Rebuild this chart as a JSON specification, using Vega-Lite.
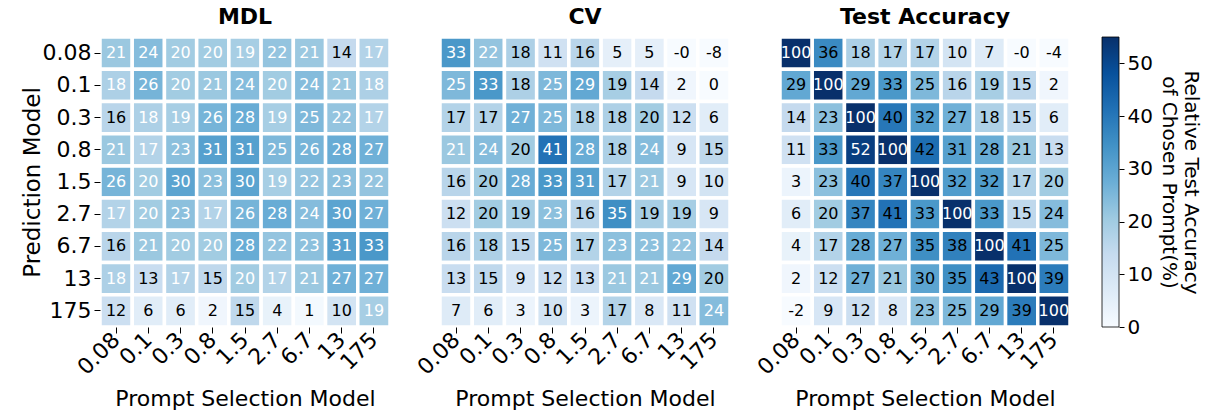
{
"$schema": "https://vega.github.io/schema/vega-lite/v6.json",
"background": "white",
"padding": {"left": 21, "top": 6, "right": 2, "bottom": 2},
"config": {
  "font": "DejaVu Sans",
  "view": {"stroke": null},
  "title": {"fontSize": 22, "fontWeight": "bold", "color": "black", "offset": 6},
  "axis": {"labelFontSize": 22, "titleFontSize": 22, "titleFontWeight": "normal", "domain": false, "tickSize": 6, "tickColor": "black", "labelColor": "black", "titleColor": "black", "labelPadding": 3, "grid": false}
},
"data": {"values": [
{"p":"MDL","r":"0.08","c":"0.08","v":21,"t":"21"},{"p":"MDL","r":"0.08","c":"0.1","v":24,"t":"24"},{"p":"MDL","r":"0.08","c":"0.3","v":20,"t":"20"},{"p":"MDL","r":"0.08","c":"0.8","v":20,"t":"20"},{"p":"MDL","r":"0.08","c":"1.5","v":19,"t":"19"},{"p":"MDL","r":"0.08","c":"2.7","v":22,"t":"22"},{"p":"MDL","r":"0.08","c":"6.7","v":21,"t":"21"},{"p":"MDL","r":"0.08","c":"13","v":14,"t":"14"},{"p":"MDL","r":"0.08","c":"175","v":17,"t":"17"},
{"p":"MDL","r":"0.1","c":"0.08","v":18,"t":"18"},{"p":"MDL","r":"0.1","c":"0.1","v":26,"t":"26"},{"p":"MDL","r":"0.1","c":"0.3","v":20,"t":"20"},{"p":"MDL","r":"0.1","c":"0.8","v":21,"t":"21"},{"p":"MDL","r":"0.1","c":"1.5","v":24,"t":"24"},{"p":"MDL","r":"0.1","c":"2.7","v":20,"t":"20"},{"p":"MDL","r":"0.1","c":"6.7","v":24,"t":"24"},{"p":"MDL","r":"0.1","c":"13","v":21,"t":"21"},{"p":"MDL","r":"0.1","c":"175","v":18,"t":"18"},
{"p":"MDL","r":"0.3","c":"0.08","v":16,"t":"16"},{"p":"MDL","r":"0.3","c":"0.1","v":18,"t":"18"},{"p":"MDL","r":"0.3","c":"0.3","v":19,"t":"19"},{"p":"MDL","r":"0.3","c":"0.8","v":26,"t":"26"},{"p":"MDL","r":"0.3","c":"1.5","v":28,"t":"28"},{"p":"MDL","r":"0.3","c":"2.7","v":19,"t":"19"},{"p":"MDL","r":"0.3","c":"6.7","v":25,"t":"25"},{"p":"MDL","r":"0.3","c":"13","v":22,"t":"22"},{"p":"MDL","r":"0.3","c":"175","v":17,"t":"17"},
{"p":"MDL","r":"0.8","c":"0.08","v":21,"t":"21"},{"p":"MDL","r":"0.8","c":"0.1","v":17,"t":"17"},{"p":"MDL","r":"0.8","c":"0.3","v":23,"t":"23"},{"p":"MDL","r":"0.8","c":"0.8","v":31,"t":"31"},{"p":"MDL","r":"0.8","c":"1.5","v":31,"t":"31"},{"p":"MDL","r":"0.8","c":"2.7","v":25,"t":"25"},{"p":"MDL","r":"0.8","c":"6.7","v":26,"t":"26"},{"p":"MDL","r":"0.8","c":"13","v":28,"t":"28"},{"p":"MDL","r":"0.8","c":"175","v":27,"t":"27"},
{"p":"MDL","r":"1.5","c":"0.08","v":26,"t":"26"},{"p":"MDL","r":"1.5","c":"0.1","v":20,"t":"20"},{"p":"MDL","r":"1.5","c":"0.3","v":30,"t":"30"},{"p":"MDL","r":"1.5","c":"0.8","v":23,"t":"23"},{"p":"MDL","r":"1.5","c":"1.5","v":30,"t":"30"},{"p":"MDL","r":"1.5","c":"2.7","v":19,"t":"19"},{"p":"MDL","r":"1.5","c":"6.7","v":22,"t":"22"},{"p":"MDL","r":"1.5","c":"13","v":23,"t":"23"},{"p":"MDL","r":"1.5","c":"175","v":22,"t":"22"},
{"p":"MDL","r":"2.7","c":"0.08","v":17,"t":"17"},{"p":"MDL","r":"2.7","c":"0.1","v":20,"t":"20"},{"p":"MDL","r":"2.7","c":"0.3","v":23,"t":"23"},{"p":"MDL","r":"2.7","c":"0.8","v":17,"t":"17"},{"p":"MDL","r":"2.7","c":"1.5","v":26,"t":"26"},{"p":"MDL","r":"2.7","c":"2.7","v":28,"t":"28"},{"p":"MDL","r":"2.7","c":"6.7","v":24,"t":"24"},{"p":"MDL","r":"2.7","c":"13","v":30,"t":"30"},{"p":"MDL","r":"2.7","c":"175","v":27,"t":"27"},
{"p":"MDL","r":"6.7","c":"0.08","v":16,"t":"16"},{"p":"MDL","r":"6.7","c":"0.1","v":21,"t":"21"},{"p":"MDL","r":"6.7","c":"0.3","v":20,"t":"20"},{"p":"MDL","r":"6.7","c":"0.8","v":20,"t":"20"},{"p":"MDL","r":"6.7","c":"1.5","v":28,"t":"28"},{"p":"MDL","r":"6.7","c":"2.7","v":22,"t":"22"},{"p":"MDL","r":"6.7","c":"6.7","v":23,"t":"23"},{"p":"MDL","r":"6.7","c":"13","v":31,"t":"31"},{"p":"MDL","r":"6.7","c":"175","v":33,"t":"33"},
{"p":"MDL","r":"13","c":"0.08","v":18,"t":"18"},{"p":"MDL","r":"13","c":"0.1","v":13,"t":"13"},{"p":"MDL","r":"13","c":"0.3","v":17,"t":"17"},{"p":"MDL","r":"13","c":"0.8","v":15,"t":"15"},{"p":"MDL","r":"13","c":"1.5","v":20,"t":"20"},{"p":"MDL","r":"13","c":"2.7","v":17,"t":"17"},{"p":"MDL","r":"13","c":"6.7","v":21,"t":"21"},{"p":"MDL","r":"13","c":"13","v":27,"t":"27"},{"p":"MDL","r":"13","c":"175","v":27,"t":"27"},
{"p":"MDL","r":"175","c":"0.08","v":12,"t":"12"},{"p":"MDL","r":"175","c":"0.1","v":6,"t":"6"},{"p":"MDL","r":"175","c":"0.3","v":6,"t":"6"},{"p":"MDL","r":"175","c":"0.8","v":2,"t":"2"},{"p":"MDL","r":"175","c":"1.5","v":15,"t":"15"},{"p":"MDL","r":"175","c":"2.7","v":4,"t":"4"},{"p":"MDL","r":"175","c":"6.7","v":1,"t":"1"},{"p":"MDL","r":"175","c":"13","v":10,"t":"10"},{"p":"MDL","r":"175","c":"175","v":19,"t":"19"},

{"p":"CV","r":"0.08","c":"0.08","v":33,"t":"33"},{"p":"CV","r":"0.08","c":"0.1","v":22,"t":"22"},{"p":"CV","r":"0.08","c":"0.3","v":18,"t":"18"},{"p":"CV","r":"0.08","c":"0.8","v":11,"t":"11"},{"p":"CV","r":"0.08","c":"1.5","v":16,"t":"16"},{"p":"CV","r":"0.08","c":"2.7","v":5,"t":"5"},{"p":"CV","r":"0.08","c":"6.7","v":5,"t":"5"},{"p":"CV","r":"0.08","c":"13","v":-0.3,"t":"-0"},{"p":"CV","r":"0.08","c":"175","v":-8,"t":"-8"},
{"p":"CV","r":"0.1","c":"0.08","v":25,"t":"25"},{"p":"CV","r":"0.1","c":"0.1","v":33,"t":"33"},{"p":"CV","r":"0.1","c":"0.3","v":18,"t":"18"},{"p":"CV","r":"0.1","c":"0.8","v":25,"t":"25"},{"p":"CV","r":"0.1","c":"1.5","v":29,"t":"29"},{"p":"CV","r":"0.1","c":"2.7","v":19,"t":"19"},{"p":"CV","r":"0.1","c":"6.7","v":14,"t":"14"},{"p":"CV","r":"0.1","c":"13","v":2,"t":"2"},{"p":"CV","r":"0.1","c":"175","v":0,"t":"0"},
{"p":"CV","r":"0.3","c":"0.08","v":17,"t":"17"},{"p":"CV","r":"0.3","c":"0.1","v":17,"t":"17"},{"p":"CV","r":"0.3","c":"0.3","v":27,"t":"27"},{"p":"CV","r":"0.3","c":"0.8","v":25,"t":"25"},{"p":"CV","r":"0.3","c":"1.5","v":18,"t":"18"},{"p":"CV","r":"0.3","c":"2.7","v":18,"t":"18"},{"p":"CV","r":"0.3","c":"6.7","v":20,"t":"20"},{"p":"CV","r":"0.3","c":"13","v":12,"t":"12"},{"p":"CV","r":"0.3","c":"175","v":6,"t":"6"},
{"p":"CV","r":"0.8","c":"0.08","v":21,"t":"21"},{"p":"CV","r":"0.8","c":"0.1","v":24,"t":"24"},{"p":"CV","r":"0.8","c":"0.3","v":20,"t":"20"},{"p":"CV","r":"0.8","c":"0.8","v":41,"t":"41"},{"p":"CV","r":"0.8","c":"1.5","v":28,"t":"28"},{"p":"CV","r":"0.8","c":"2.7","v":18,"t":"18"},{"p":"CV","r":"0.8","c":"6.7","v":24,"t":"24"},{"p":"CV","r":"0.8","c":"13","v":9,"t":"9"},{"p":"CV","r":"0.8","c":"175","v":15,"t":"15"},
{"p":"CV","r":"1.5","c":"0.08","v":16,"t":"16"},{"p":"CV","r":"1.5","c":"0.1","v":20,"t":"20"},{"p":"CV","r":"1.5","c":"0.3","v":28,"t":"28"},{"p":"CV","r":"1.5","c":"0.8","v":33,"t":"33"},{"p":"CV","r":"1.5","c":"1.5","v":31,"t":"31"},{"p":"CV","r":"1.5","c":"2.7","v":17,"t":"17"},{"p":"CV","r":"1.5","c":"6.7","v":21,"t":"21"},{"p":"CV","r":"1.5","c":"13","v":9,"t":"9"},{"p":"CV","r":"1.5","c":"175","v":10,"t":"10"},
{"p":"CV","r":"2.7","c":"0.08","v":12,"t":"12"},{"p":"CV","r":"2.7","c":"0.1","v":20,"t":"20"},{"p":"CV","r":"2.7","c":"0.3","v":19,"t":"19"},{"p":"CV","r":"2.7","c":"0.8","v":23,"t":"23"},{"p":"CV","r":"2.7","c":"1.5","v":16,"t":"16"},{"p":"CV","r":"2.7","c":"2.7","v":35,"t":"35"},{"p":"CV","r":"2.7","c":"6.7","v":19,"t":"19"},{"p":"CV","r":"2.7","c":"13","v":19,"t":"19"},{"p":"CV","r":"2.7","c":"175","v":9,"t":"9"},
{"p":"CV","r":"6.7","c":"0.08","v":16,"t":"16"},{"p":"CV","r":"6.7","c":"0.1","v":18,"t":"18"},{"p":"CV","r":"6.7","c":"0.3","v":15,"t":"15"},{"p":"CV","r":"6.7","c":"0.8","v":25,"t":"25"},{"p":"CV","r":"6.7","c":"1.5","v":17,"t":"17"},{"p":"CV","r":"6.7","c":"2.7","v":23,"t":"23"},{"p":"CV","r":"6.7","c":"6.7","v":23,"t":"23"},{"p":"CV","r":"6.7","c":"13","v":22,"t":"22"},{"p":"CV","r":"6.7","c":"175","v":14,"t":"14"},
{"p":"CV","r":"13","c":"0.08","v":13,"t":"13"},{"p":"CV","r":"13","c":"0.1","v":15,"t":"15"},{"p":"CV","r":"13","c":"0.3","v":9,"t":"9"},{"p":"CV","r":"13","c":"0.8","v":12,"t":"12"},{"p":"CV","r":"13","c":"1.5","v":13,"t":"13"},{"p":"CV","r":"13","c":"2.7","v":21,"t":"21"},{"p":"CV","r":"13","c":"6.7","v":21,"t":"21"},{"p":"CV","r":"13","c":"13","v":29,"t":"29"},{"p":"CV","r":"13","c":"175","v":20,"t":"20"},
{"p":"CV","r":"175","c":"0.08","v":7,"t":"7"},{"p":"CV","r":"175","c":"0.1","v":6,"t":"6"},{"p":"CV","r":"175","c":"0.3","v":3,"t":"3"},{"p":"CV","r":"175","c":"0.8","v":10,"t":"10"},{"p":"CV","r":"175","c":"1.5","v":3,"t":"3"},{"p":"CV","r":"175","c":"2.7","v":17,"t":"17"},{"p":"CV","r":"175","c":"6.7","v":8,"t":"8"},{"p":"CV","r":"175","c":"13","v":11,"t":"11"},{"p":"CV","r":"175","c":"175","v":24,"t":"24"},

{"p":"TA","r":"0.08","c":"0.08","v":100,"t":"100"},{"p":"TA","r":"0.08","c":"0.1","v":36,"t":"36"},{"p":"TA","r":"0.08","c":"0.3","v":18,"t":"18"},{"p":"TA","r":"0.08","c":"0.8","v":17,"t":"17"},{"p":"TA","r":"0.08","c":"1.5","v":17,"t":"17"},{"p":"TA","r":"0.08","c":"2.7","v":10,"t":"10"},{"p":"TA","r":"0.08","c":"6.7","v":7,"t":"7"},{"p":"TA","r":"0.08","c":"13","v":-0.3,"t":"-0"},{"p":"TA","r":"0.08","c":"175","v":-4,"t":"-4"},
{"p":"TA","r":"0.1","c":"0.08","v":29,"t":"29"},{"p":"TA","r":"0.1","c":"0.1","v":100,"t":"100"},{"p":"TA","r":"0.1","c":"0.3","v":29,"t":"29"},{"p":"TA","r":"0.1","c":"0.8","v":33,"t":"33"},{"p":"TA","r":"0.1","c":"1.5","v":25,"t":"25"},{"p":"TA","r":"0.1","c":"2.7","v":16,"t":"16"},{"p":"TA","r":"0.1","c":"6.7","v":19,"t":"19"},{"p":"TA","r":"0.1","c":"13","v":15,"t":"15"},{"p":"TA","r":"0.1","c":"175","v":2,"t":"2"},
{"p":"TA","r":"0.3","c":"0.08","v":14,"t":"14"},{"p":"TA","r":"0.3","c":"0.1","v":23,"t":"23"},{"p":"TA","r":"0.3","c":"0.3","v":100,"t":"100"},{"p":"TA","r":"0.3","c":"0.8","v":40,"t":"40"},{"p":"TA","r":"0.3","c":"1.5","v":32,"t":"32"},{"p":"TA","r":"0.3","c":"2.7","v":27,"t":"27"},{"p":"TA","r":"0.3","c":"6.7","v":18,"t":"18"},{"p":"TA","r":"0.3","c":"13","v":15,"t":"15"},{"p":"TA","r":"0.3","c":"175","v":6,"t":"6"},
{"p":"TA","r":"0.8","c":"0.08","v":11,"t":"11"},{"p":"TA","r":"0.8","c":"0.1","v":33,"t":"33"},{"p":"TA","r":"0.8","c":"0.3","v":52,"t":"52"},{"p":"TA","r":"0.8","c":"0.8","v":100,"t":"100"},{"p":"TA","r":"0.8","c":"1.5","v":42,"t":"42"},{"p":"TA","r":"0.8","c":"2.7","v":31,"t":"31"},{"p":"TA","r":"0.8","c":"6.7","v":28,"t":"28"},{"p":"TA","r":"0.8","c":"13","v":21,"t":"21"},{"p":"TA","r":"0.8","c":"175","v":13,"t":"13"},
{"p":"TA","r":"1.5","c":"0.08","v":3,"t":"3"},{"p":"TA","r":"1.5","c":"0.1","v":23,"t":"23"},{"p":"TA","r":"1.5","c":"0.3","v":40,"t":"40"},{"p":"TA","r":"1.5","c":"0.8","v":37,"t":"37"},{"p":"TA","r":"1.5","c":"1.5","v":100,"t":"100"},{"p":"TA","r":"1.5","c":"2.7","v":32,"t":"32"},{"p":"TA","r":"1.5","c":"6.7","v":32,"t":"32"},{"p":"TA","r":"1.5","c":"13","v":17,"t":"17"},{"p":"TA","r":"1.5","c":"175","v":20,"t":"20"},
{"p":"TA","r":"2.7","c":"0.08","v":6,"t":"6"},{"p":"TA","r":"2.7","c":"0.1","v":20,"t":"20"},{"p":"TA","r":"2.7","c":"0.3","v":37,"t":"37"},{"p":"TA","r":"2.7","c":"0.8","v":41,"t":"41"},{"p":"TA","r":"2.7","c":"1.5","v":33,"t":"33"},{"p":"TA","r":"2.7","c":"2.7","v":100,"t":"100"},{"p":"TA","r":"2.7","c":"6.7","v":33,"t":"33"},{"p":"TA","r":"2.7","c":"13","v":15,"t":"15"},{"p":"TA","r":"2.7","c":"175","v":24,"t":"24"},
{"p":"TA","r":"6.7","c":"0.08","v":4,"t":"4"},{"p":"TA","r":"6.7","c":"0.1","v":17,"t":"17"},{"p":"TA","r":"6.7","c":"0.3","v":28,"t":"28"},{"p":"TA","r":"6.7","c":"0.8","v":27,"t":"27"},{"p":"TA","r":"6.7","c":"1.5","v":35,"t":"35"},{"p":"TA","r":"6.7","c":"2.7","v":38,"t":"38"},{"p":"TA","r":"6.7","c":"6.7","v":100,"t":"100"},{"p":"TA","r":"6.7","c":"13","v":41,"t":"41"},{"p":"TA","r":"6.7","c":"175","v":25,"t":"25"},
{"p":"TA","r":"13","c":"0.08","v":2,"t":"2"},{"p":"TA","r":"13","c":"0.1","v":12,"t":"12"},{"p":"TA","r":"13","c":"0.3","v":27,"t":"27"},{"p":"TA","r":"13","c":"0.8","v":21,"t":"21"},{"p":"TA","r":"13","c":"1.5","v":30,"t":"30"},{"p":"TA","r":"13","c":"2.7","v":35,"t":"35"},{"p":"TA","r":"13","c":"6.7","v":43,"t":"43"},{"p":"TA","r":"13","c":"13","v":100,"t":"100"},{"p":"TA","r":"13","c":"175","v":39,"t":"39"},
{"p":"TA","r":"175","c":"0.08","v":-2,"t":"-2"},{"p":"TA","r":"175","c":"0.1","v":9,"t":"9"},{"p":"TA","r":"175","c":"0.3","v":12,"t":"12"},{"p":"TA","r":"175","c":"0.8","v":8,"t":"8"},{"p":"TA","r":"175","c":"1.5","v":23,"t":"23"},{"p":"TA","r":"175","c":"2.7","v":25,"t":"25"},{"p":"TA","r":"175","c":"6.7","v":29,"t":"29"},{"p":"TA","r":"175","c":"13","v":39,"t":"39"},{"p":"TA","r":"175","c":"175","v":100,"t":"100"}
]},
"spacing": 29,
"hconcat": [
 {"spacing": 21, "hconcat": [
  {"title": "MDL", "width": 290, "height": 290,
   "transform": [{"filter": "datum.p == 'MDL'"}],
   "encoding": {
     "x": {"field": "c", "type": "ordinal", "sort": ["0.08","0.1","0.3","0.8","1.5","2.7","6.7","13","175"], "title": "Prompt Selection Model", "axis": {"labelAngle": -45, "labelAlign": "right", "labelBaseline": "middle", "titlePadding": 10}},
     "y": {"field": "r", "type": "ordinal", "sort": ["0.08","0.1","0.3","0.8","1.5","2.7","6.7","13","175"], "title": "Prediction Model", "axis": {"titleFontSize": 23, "titlePadding": -2}}
   },
   "layer": [
     {"mark": {"type": "rect", "stroke": "white", "strokeWidth": 3.5},
      "encoding": {"color": {"field": "v", "type": "quantitative", "legend": null, "scale": {"domain": [0,6.875,13.75,20.625,27.5,34.375,41.25,48.125,55], "range": ["#f7fbff","#deebf7","#c6dbef","#9ecae1","#6baed6","#4292c6","#2171b5","#08519c","#08306b"], "clamp": true, "interpolate": "rgb"}}}},
     {"mark": {"type": "text", "fontSize": 16},
      "encoding": {"text": {"field": "t"}, "color": {"condition": {"test": "datum.v >= 17", "value": "white"}, "value": "black"}}}
   ]},
  {"title": "CV", "width": 290, "height": 290,
   "transform": [{"filter": "datum.p == 'CV'"}],
   "encoding": {
     "x": {"field": "c", "type": "ordinal", "sort": ["0.08","0.1","0.3","0.8","1.5","2.7","6.7","13","175"], "title": "Prompt Selection Model", "axis": {"labelAngle": -45, "labelAlign": "right", "labelBaseline": "middle", "titlePadding": 10}},
     "y": {"field": "r", "type": "ordinal", "sort": ["0.08","0.1","0.3","0.8","1.5","2.7","6.7","13","175"], "axis": null}
   },
   "layer": [
     {"mark": {"type": "rect", "stroke": "white", "strokeWidth": 3.5},
      "encoding": {"color": {"field": "v", "type": "quantitative", "legend": null, "scale": {"domain": [0,6.875,13.75,20.625,27.5,34.375,41.25,48.125,55], "range": ["#f7fbff","#deebf7","#c6dbef","#9ecae1","#6baed6","#4292c6","#2171b5","#08519c","#08306b"], "clamp": true, "interpolate": "rgb"}}}},
     {"mark": {"type": "text", "fontSize": 16},
      "encoding": {"text": {"field": "t"}, "color": {"condition": {"test": "datum.v >= 21", "value": "white"}, "value": "black"}}}
   ]},
  {"title": "Test Accuracy", "width": 290, "height": 290,
   "transform": [{"filter": "datum.p == 'TA'"}],
   "encoding": {
     "x": {"field": "c", "type": "ordinal", "sort": ["0.08","0.1","0.3","0.8","1.5","2.7","6.7","13","175"], "title": "Prompt Selection Model", "axis": {"labelAngle": -45, "labelAlign": "right", "labelBaseline": "middle", "titlePadding": 10}},
     "y": {"field": "r", "type": "ordinal", "sort": ["0.08","0.1","0.3","0.8","1.5","2.7","6.7","13","175"], "axis": null}
   },
   "layer": [
     {"mark": {"type": "rect", "stroke": "white", "strokeWidth": 3.5},
      "encoding": {"color": {"field": "v", "type": "quantitative", "legend": null, "scale": {"domain": [0,6.875,13.75,20.625,27.5,34.375,41.25,48.125,55], "range": ["#f7fbff","#deebf7","#c6dbef","#9ecae1","#6baed6","#4292c6","#2171b5","#08519c","#08306b"], "clamp": true, "interpolate": "rgb"}}}},
     {"mark": {"type": "text", "fontSize": 16},
      "encoding": {"text": {"field": "t"}, "color": {"condition": {"test": "datum.v >= 50", "value": "white"}, "value": "black"}}}
   ]}
 ]},
 {"width": 17, "height": 290,
  "data": {"values": [{"lo": 0, "hi": 55}]},
  "mark": {"type": "rect", "stroke": "black", "strokeWidth": 0.8,
    "fill": {"gradient": "linear", "x1": 0, "y1": 1, "x2": 0, "y2": 0, "stops": [
      {"offset": 0, "color": "#f7fbff"}, {"offset": 0.125, "color": "#deebf7"}, {"offset": 0.25, "color": "#c6dbef"}, {"offset": 0.375, "color": "#9ecae1"}, {"offset": 0.5, "color": "#6baed6"}, {"offset": 0.625, "color": "#4292c6"}, {"offset": 0.75, "color": "#2171b5"}, {"offset": 0.875, "color": "#08519c"}, {"offset": 1, "color": "#08306b"}]}},
  "encoding": {
    "y": {"field": "lo", "type": "quantitative", "scale": {"domain": [0, 55], "nice": false},
      "axis": {"orient": "right", "values": [0,10,20,30,40,50], "title": ["Relative Test Accuracy", "of Chosen Prompt(%)"], "titleFontSize": 20, "labelFontSize": 20, "titlePadding": 6, "tickSize": 5}},
    "y2": {"field": "hi"}
  }}
]
}
